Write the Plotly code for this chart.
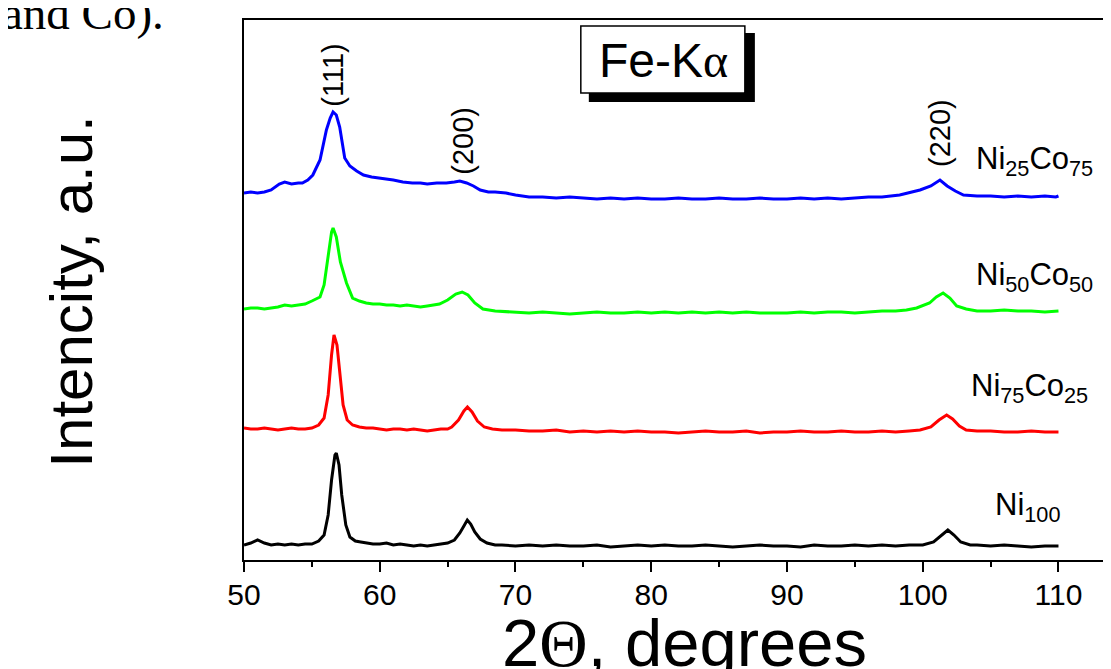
import plotly.graph_objects as go

# ---------------- data (2Theta in degrees, intensity in a.u., stacked) ----------------
x_ni100 = [50, 50.5, 51, 51.5, 52, 52.5, 53, 53.5, 54, 54.5,
           55, 55.5, 55.9, 56.2, 56.45, 56.7, 56.8, 57.0, 57.2, 57.5,
           57.8, 58.2, 58.6, 59, 59.5, 60, 60.5, 61, 61.5, 62,
           62.5, 63, 63.5, 64, 64.5, 65, 65.5, 65.9, 66.2, 66.45,
           66.7, 67.0, 67.4, 67.9, 68.5, 69, 70, 71, 72, 73,
           74, 75, 76, 77, 78, 79, 80, 81, 82, 83,
           84, 85, 86, 87, 88, 89, 90, 91, 92, 93,
           94, 95, 96, 97, 98, 99, 100, 100.8, 101.3, 101.85,
           102.3, 102.8, 103.5, 104, 105, 106, 107, 108, 109, 110]
y_ni100 = [15, 17, 20, 17, 15, 16, 15, 16, 15, 16,
           16, 19, 25, 45, 80, 105, 107, 95, 65, 35,
           23, 19, 18, 17, 16, 16, 17, 15, 16, 15,
           14, 15, 14, 15, 16, 17, 20, 27, 34, 40,
           36, 28, 21, 17, 15, 15, 14, 15, 14, 15,
           14, 14, 15, 13, 14, 15, 14, 15, 14, 14,
           15, 14, 13, 14, 15, 14, 14, 13, 15, 14,
           14, 15, 14, 15, 14, 15, 15, 18, 24, 30,
           25, 18, 15, 15, 14, 15, 14, 13, 14, 14]

x_ni75 = [50, 50.5, 51, 51.5, 52, 52.5, 53, 53.5, 54, 54.5,
          55, 55.5, 55.9, 56.2, 56.45, 56.63, 56.85, 57.05, 57.3, 57.6,
          58.0, 58.5, 59, 59.5, 60, 60.5, 61, 61.5, 62, 62.5,
          63, 63.5, 64, 64.5, 65, 65.3, 65.8, 66.2, 66.46, 66.8,
          67.2, 67.7, 68.3, 69, 70, 71, 72, 73, 74, 75,
          76, 77, 78, 79, 80, 81, 82, 83, 84, 85,
          86, 87, 88, 89, 90, 91, 92, 93, 94, 95,
          96, 97, 98, 99, 99.8, 100.6, 101.2, 101.76, 102.2, 102.7,
          103.2, 104, 105, 106, 107, 108, 109, 110]
y_ni75 = [132, 131, 131, 132, 131, 130, 131, 132, 131, 131,
          132, 135, 142, 165, 205, 225, 215, 185, 155, 140,
          135, 133, 132, 132, 131, 130, 131, 131, 130, 131,
          130, 129, 130, 131, 131, 133, 140, 149, 153, 148,
          139, 133, 131, 130, 130, 129, 129, 130, 128, 129,
          128, 129, 128, 129, 128, 128, 127, 128, 129, 128,
          128, 129, 127, 128, 128, 129, 128, 128, 129, 128,
          128, 129, 128, 129, 130, 133, 140, 145, 141, 134,
          130, 129, 129, 128, 128, 129, 128, 128]

x_ni50 = [50, 50.5, 51, 51.5, 52, 52.5, 53, 53.5, 54, 54.5,
          55, 55.6, 55.9, 56.2, 56.45, 56.56, 56.8, 57.1, 57.55, 58.0,
          58.5, 59, 59.5, 60, 60.5, 61, 61.5, 62, 62.5, 63,
          63.5, 64, 64.4, 65, 65.6, 66.07, 66.5, 67, 67.6, 68.5,
          69.8, 71, 72, 73, 74, 75, 76, 77, 78, 79,
          80, 81, 82, 83, 84, 85, 86, 87, 88, 89,
          90, 91, 92, 93, 94, 95, 96, 97, 98,
          98.8, 99.55, 100.5, 101, 101.5, 102, 102.5, 103.2, 104, 105,
          106, 107, 108, 109, 110]
y_ni50 = [251, 252, 252, 251, 252, 253, 255, 254, 255, 256,
          259, 263, 275, 305, 328, 332, 323, 298, 277, 262,
          259, 257, 256, 256, 255, 255, 254, 255, 254, 253,
          254, 255, 256, 260, 266, 268, 265, 257, 251, 249,
          248, 247, 248, 247, 246, 247, 248, 247, 247, 248,
          247, 248, 247, 248, 247, 248, 247, 248, 247, 247,
          247, 248, 247, 248, 248, 247, 248, 249, 249,
          250, 252, 257, 263, 267, 262, 254, 251, 249, 249,
          250, 249, 249, 248, 249]

x_ni25 = [50, 50.5, 51, 51.5, 52, 52.3, 52.6, 53, 53.5, 54,
          54.3, 54.7, 55.07, 55.6, 56.07, 56.35, 56.56, 56.8, 57.05, 57.42,
          57.8, 58.3, 58.8, 59.4, 60, 60.5, 61, 61.7, 62.4, 63,
          63.5, 64.2, 64.9, 65.5, 65.9, 66.4, 66.9, 67.4, 68, 68.5,
          69.3, 70, 71, 72, 73, 74, 75, 76, 77, 78,
          79, 80, 81, 82, 83, 84, 85, 86, 87, 88,
          89, 90, 91, 92, 93, 94, 95, 96, 97,
          98.3, 99.2, 99.8, 100.6, 101.27, 101.8, 102.4, 103, 104, 105,
          106, 107, 108, 109, 109.8, 110]
y_ni25 = [367, 368, 367, 368, 370, 373, 376, 378, 376, 377,
          377, 380, 385, 400, 430, 442, 448, 445, 433, 402,
          394, 389, 385, 383, 382, 381, 380, 378, 377, 377,
          376, 377, 377, 378, 379, 377, 374, 370, 368, 368,
          367, 365, 363, 363, 362, 363, 362, 361, 362, 361,
          362, 361, 361, 362, 361, 361, 362, 361, 361, 362,
          361, 361, 362, 361, 362, 361, 362, 363, 363,
          365, 368, 370, 374, 380, 374, 369, 365, 364, 364,
          363, 364, 363, 364, 363, 364]

series_names = ["Ni<sub>100</sub>", "Ni<sub>75</sub>Co<sub>25</sub>",
                "Ni<sub>50</sub>Co<sub>50</sub>", "Ni<sub>25</sub>Co<sub>75</sub>"]
series_x = [x_ni100, x_ni75, x_ni50, x_ni25]
series_y = [y_ni100, y_ni75, y_ni50, y_ni25]
series_colors = ["#000000", "#FF0000", "#00FF00", "#0000FF"]

x_tickvals = [50, 60, 70, 80, 90, 100, 110]
x_ticktext = ["50", "60", "70", "80", "90", "100", "110"]
x_minor_tickvals = [55, 65, 75, 85, 95, 105]

peak_labels = ["(111)", "(200)", "(220)"]

# ---------------- layout helpers (screen pixel -> paper) ----------------
OFF = 8                      # page body margin of the html page
W, H = 1111 - OFF, 669 - OFF
L, T, B = 244.3 - OFF, 20 - OFF, 560 - OFF
PW, PH = W - L, B - T


def px(p):
    return (p - OFF - L) / PW


def py(p):
    return (B - (p - OFF)) / PH


SANS = "Liberation Sans, Arial, sans-serif"
SERIF = "Liberation Serif, Times New Roman, serif"

fig = go.Figure()
for xs, ys, c, n in zip(series_x, series_y, series_colors, series_names):
    fig.add_trace(go.Scatter(x=xs, y=ys, mode="lines", name=n,
                             line=dict(color=c, width=3), showlegend=False))

annotations = []
# sample labels
label_pos = [(993, 507), (969, 388), (974, 277), (974, 161)]
for n, (lx, ly) in zip(series_names, label_pos):
    annotations.append(dict(text=n, xref="paper", yref="paper", x=px(lx), y=py(ly),
                            xanchor="left", yanchor="middle", showarrow=False,
                            font=dict(family=SANS, size=31, color="black")))
# peak labels
peak_pos = [(333, 75), (463, 141), (940, 133)]
for t, (lx, ly) in zip(peak_labels, peak_pos):
    annotations.append(dict(text=t, xref="paper", yref="paper", x=px(lx), y=py(ly),
                            xanchor="center", yanchor="middle", textangle=-90, showarrow=False,
                            font=dict(family=SANS, size=29, color="black")))
# Fe-K alpha box text
annotations.append(dict(text="Fe-K<span style='font-family:Liberation Serif'>α</span>",
                        xref="paper", yref="paper", x=px(664), y=py(60),
                        xanchor="center", yanchor="middle", showarrow=False,
                        font=dict(family=SANS, size=48, color="black")))
# axis titles
annotations.append(dict(text="2<span style='font-family:Liberation Serif'>Θ</span>, degrees",
                        xref="paper", yref="paper", x=px(685), y=py(642),
                        xanchor="center", yanchor="middle", showarrow=False,
                        font=dict(family=SANS, size=67, color="black")))
annotations.append(dict(text="Intencity, a.u.", xref="paper", yref="paper",
                        x=px(71), y=py(292), xanchor="center", yanchor="middle",
                        textangle=-90, showarrow=False,
                        font=dict(family=SANS, size=60, color="black")))
# document text fragment
annotations.append(dict(text="and Co).", xref="paper", yref="paper",
                        x=px(166), y=py(13), xanchor="right", yanchor="middle",
                        showarrow=False, font=dict(family=SERIF, size=47, color="black")))

shapes = [
    dict(type="rect", xref="paper", yref="paper", x0=px(589), x1=px(755), y0=py(33), y1=py(102),
         fillcolor="black", line=dict(color="black", width=0)),
    dict(type="rect", xref="paper", yref="paper", x0=px(581), x1=px(745), y0=py(26), y1=py(93),
         fillcolor="white", line=dict(color="black", width=1.5)),
]

fig.update_layout(
    width=W, height=H,
    margin=dict(l=L, r=0, t=T, b=H - B, pad=0),
    paper_bgcolor="white", plot_bgcolor="white",
    annotations=annotations, shapes=shapes,
    xaxis=dict(range=[50, 50 + PW / 13.57], showline=True, linecolor="black", linewidth=2,
               mirror=True, ticks="outside", ticklen=10, tickwidth=2, tickcolor="black",
               tickvals=x_tickvals, ticktext=x_ticktext, showgrid=False, zeroline=False,
               ticklabelstandoff=-3,
               tickfont=dict(family=SANS, size=30, color="black"),
               minor=dict(tickvals=x_minor_tickvals, ticks="outside", ticklen=5,
                          tickwidth=2, tickcolor="black")),
    yaxis=dict(range=[0, 540], showline=True, linecolor="black", linewidth=2,
               showticklabels=False, ticks="", showgrid=False, zeroline=False),
)

fig.write_html("out.html")
